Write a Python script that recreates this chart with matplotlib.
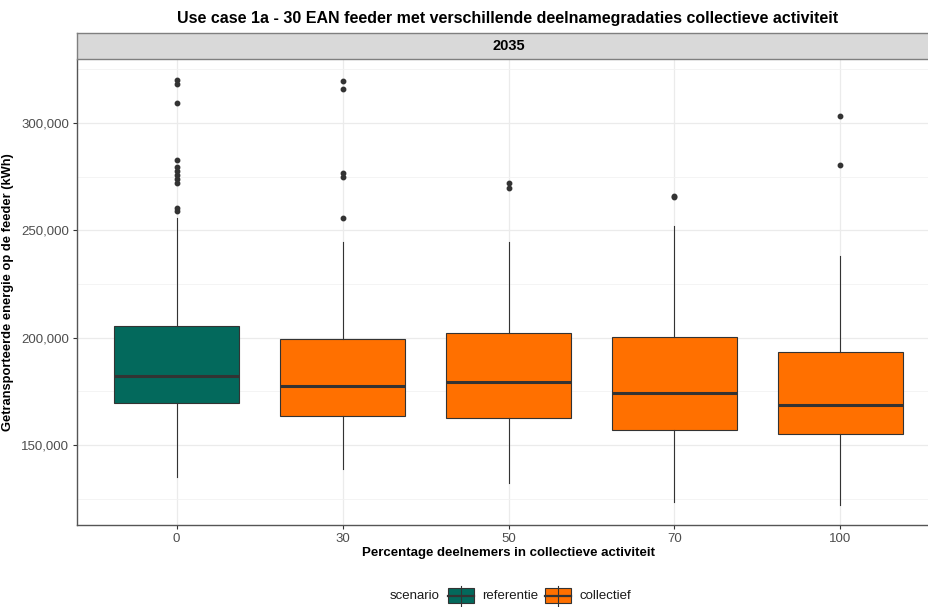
import numpy as np
import matplotlib.pyplot as plt
from matplotlib.patches import Rectangle
from matplotlib.lines import Line2D

plt.rcParams['font.family'] = ['Liberation Sans', 'DejaVu Sans']

# waarden
categorieen = ['0', '30', '50', '70', '100']
scenario = ['referentie', 'collectief', 'collectief', 'collectief', 'collectief']
q1 = [169500, 163500, 162700, 157100, 155000]
mediaan = [182100, 177300, 179500, 174300, 168800]
q3 = [205400, 199200, 202000, 200300, 193200]
whis_laag = [135100, 138700, 132300, 123400, 122200]
whis_hoog = [255700, 244700, 244700, 252000, 238200]
uitschieters = [
    [320000, 318000, 309200, 282800, 279400, 277600, 275800, 273800, 271900, 260300, 259100],
    [319600, 315800, 276600, 274700, 255600],
    [271900, 269600],
    [265900, 265500],
    [303400, 280300],
]
kleuren = {'referentie': '#03695C', 'collectief': '#FF7000'}

W, H = 929, 607
fig = plt.figure(figsize=(9.29, 6.07), dpi=100)
# het paneel loopt (net als in het origineel) iets over de rechterrand door
ax = fig.add_axes([77/W, 1-525/H, (940-77)/W, (525-60)/H])

stats = []
for i in range(len(categorieen)):
    stats.append(dict(med=mediaan[i], q1=q1[i], q3=q3[i], whislo=whis_laag[i],
                      whishi=whis_hoog[i], fliers=uitschieters[i]))

bp = ax.bxp(stats, positions=np.arange(len(categorieen)), widths=0.75,
            patch_artist=True, showcaps=False, zorder=3,
            boxprops=dict(edgecolor='#333333', linewidth=0.8),
            medianprops=dict(color='#333333', linewidth=2.2),
            whiskerprops=dict(color='#333333', linewidth=0.8),
            flierprops=dict(marker='o', markerfacecolor='#333333', markeredgecolor='#333333',
                            markersize=3.2))
for patch, s in zip(bp['boxes'], scenario):
    patch.set_facecolor(kleuren[s])

ax.set_xlim(-0.6, 4.6)
ax.set_ylim(112700, 329350)
ax.set_xticks(np.arange(len(categorieen)))
ax.set_xticklabels(categorieen)
ax.set_yticks([150000, 200000, 250000, 300000])
ax.set_yticklabels(['150,000', '200,000', '250,000', '300,000'])
ax.set_yticks([125000, 175000, 225000, 275000, 325000], minor=True)
ax.tick_params(axis='both', colors='#333333', labelcolor='#4D4D4D', labelsize=9.5,
               length=3, width=0.8, pad=2.5)
ax.tick_params(axis='y', which='minor', length=0)
ax.grid(True, which='major', color='#EBEBEB', linewidth=0.9, zorder=0)
ax.grid(True, which='minor', axis='y', color='#F2F2F2', linewidth=0.6, zorder=0)
ax.set_axisbelow(True)
for kant in ['top', 'right']:
    ax.spines[kant].set_visible(False)
for kant in ['left', 'bottom']:
    ax.spines[kant].set_color('#555555')
    ax.spines[kant].set_linewidth(1.0)

ax.set_xlabel('Percentage deelnemers in collectieve activiteit', fontsize=9.5,
              fontweight='bold', labelpad=2)
ax.set_ylabel('Getransporteerde energie op de feeder (kWh)', fontsize=9.3,
              fontweight='bold', labelpad=5)

# facet strip
strip = fig.add_axes([77/W, 1-59/H, (940-77)/W, 26/H])
strip.set_facecolor('#D9D9D9')
strip.set_xticks([])
strip.set_yticks([])
for sp in strip.spines.values():
    sp.set_color('#7F7F7F')
    sp.set_linewidth(1.0)
strip.spines['right'].set_visible(False)
strip.text(0.5, 0.5, '2035', ha='center', va='center', fontsize=10.5, fontweight='bold',
           transform=strip.transAxes)

fig.text(508/W, 1-18/H, 'Use case 1a - 30 EAN feeder met verschillende deelnamegradaties collectieve activiteit',
         ha='center', va='center', fontsize=11.5, fontweight='bold')

# legenda
fig.text(390/W, 1-596/H, 'scenario', ha='left', va='center', fontsize=9.5, color='#1A1A1A')
sleutels = [(448, 'referentie'), (545, 'collectief')]
for x0, naam in sleutels:
    fig.add_artist(Line2D([(x0+13)/W, (x0+13)/W], [1-606/H, 1-586/H], color='#333333',
                          linewidth=0.8, transform=fig.transFigure))
    fig.add_artist(Rectangle((x0/W, 1-603/H), 26/W, 15/H, facecolor=kleuren[naam],
                             edgecolor='#333333', linewidth=0.8, transform=fig.transFigure))
    fig.add_artist(Line2D([x0/W, (x0+26)/W], [1-595.5/H, 1-595.5/H], color='#333333',
                          linewidth=1.6, transform=fig.transFigure))
    fig.text((x0+34)/W, 1-596/H, naam, ha='left', va='center', fontsize=9.5, color='#1A1A1A')

fig.savefig('out.png', dpi=100)
